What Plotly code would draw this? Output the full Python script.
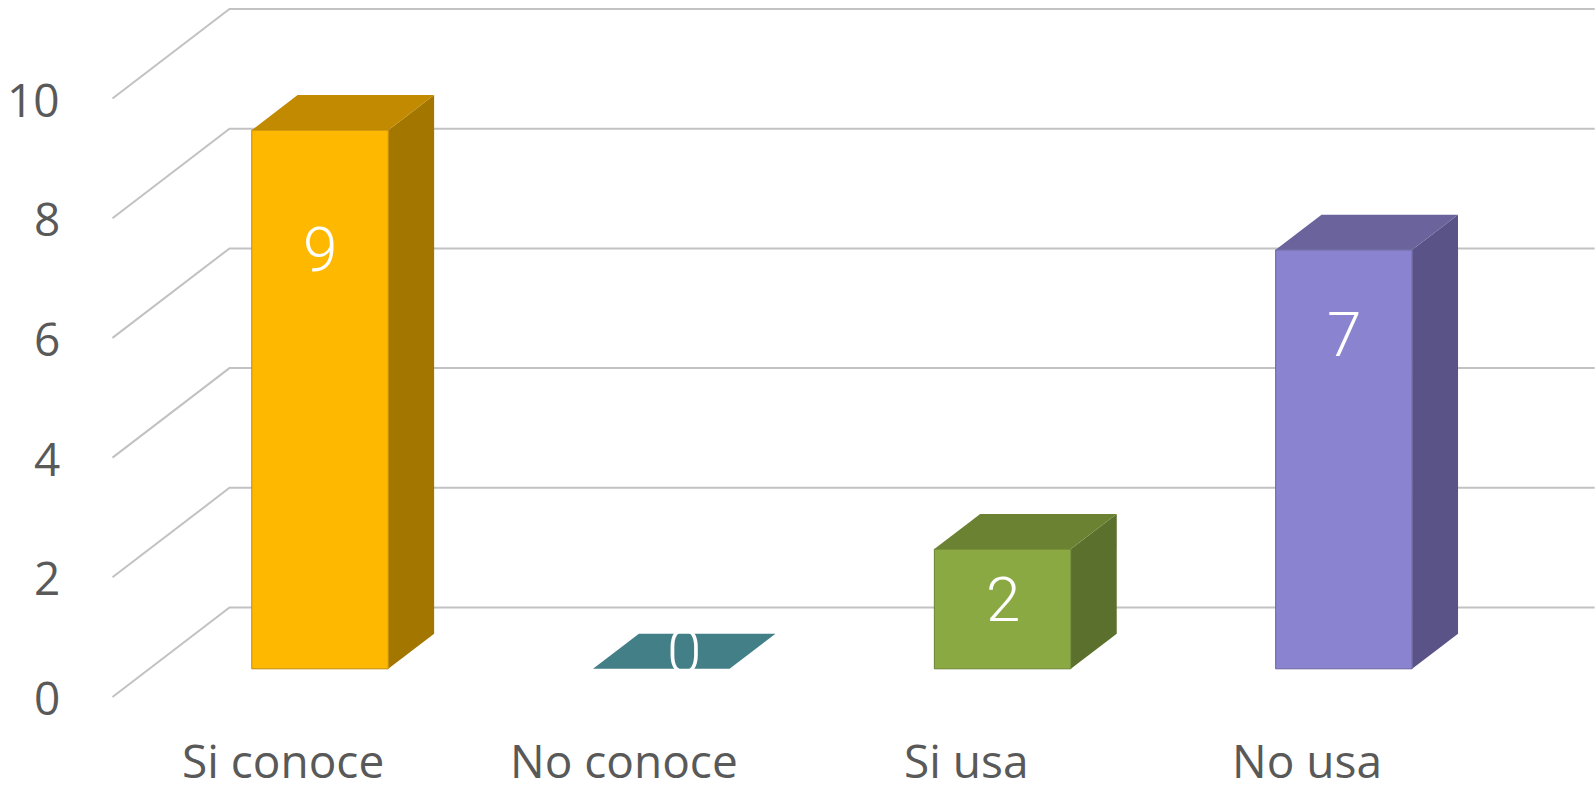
import plotly.graph_objects as go

# ---------------- data ----------------
categories = ["Si conoce", "No conoce", "Si usa", "No usa"]
values = [9, 0, 2, 7]
y_ticks = [0, 2, 4, 6, 8, 10]
y_tick_labels = ["0", "2", "4", "6", "8", "10"]

# ---------------- style ----------------
front_colors = ["#FFB800", "#4A8E97", "#8BA943", "#8A83D0"]
top_colors = ["#C28A00", "#427F87", "#6B8233", "#6A639C"]
side_colors = ["#A37600", "#366B72", "#5B702C", "#5A5387"]
label_frac = [0.778, 0.0, 0.575, 0.797]   # vertical placement of the value label within each bar

W, H = 1595, 785
CAT_PX = 341.3          # pixels per category on the front plane
UNIT_PX = 59.85         # pixels per value unit
X0_PX = 112.5           # pixel of category -0.5 on the front plane
Y0_PX = 697.0           # pixel of value 0 on the front plane
DEPTH_X = 117.0 / CAT_PX   # full depth offset, category units
DEPTH_Y = 89.5 / UNIT_PX   # full depth offset, value units
BAR_W = 0.4
D0, D1 = 0.315, 0.707   # bar front / back depth fractions

x_range = [-0.5 - X0_PX / CAT_PX, -0.5 + (W - X0_PX) / CAT_PX]
y_range = [-(H - Y0_PX) / UNIT_PX, Y0_PX / UNIT_PX]


def proj(x, y, d):
    return x + d * DEPTH_X, y + d * DEPTH_Y


fig = go.Figure()

# gridlines: left wall diagonals + back wall horizontals
gx, gy = [], []
n = len(categories)
for v in y_ticks:
    for (cx, dd) in [(-0.5, 0.0), (-0.5, 1.0), (n - 0.5, 1.0)]:
        px, py = proj(cx, v, dd)
        gx.append(px)
        gy.append(py)
    gx.append(None)
    gy.append(None)
fig.add_trace(go.Scatter(x=gx, y=gy, mode="lines",
                         line=dict(color="#C2C2C2", width=2),
                         hoverinfo="skip", showlegend=False))


def poly(pts, color, lw=0, lc=None):
    xs = [p[0] for p in pts] + [pts[0][0]]
    ys = [p[1] for p in pts] + [pts[0][1]]
    fig.add_trace(go.Scatter(x=xs, y=ys, mode="lines", fill="toself",
                             fillcolor=color,
                             line=dict(color=lc or color, width=lw),
                             hoverinfo="skip", showlegend=False))


for i, v in enumerate(values):
    x0, x1 = i - BAR_W / 2, i + BAR_W / 2
    if v > 0:
        side = [proj(x1, 0, D0), proj(x1, 0, D1), proj(x1, v, D1), proj(x1, v, D0)]
        poly(side, side_colors[i])
        front = [proj(x0, 0, D0), proj(x1, 0, D0), proj(x1, v, D0), proj(x0, v, D0)]
        poly(front, front_colors[i], 1, top_colors[i])
    top = [proj(x0, v, D0), proj(x1, v, D0), proj(x1, v, D1), proj(x0, v, D1)]
    poly(top, top_colors[i])

annotations = []
# value labels
for i, v in enumerate(values):
    if v > 0:
        lx, ly = proj(i, v * label_frac[i], D0)
    else:
        lx, ly = proj(i, 0, (D0 + D1) / 2)
    annotations.append(dict(x=lx, y=ly, text=str(v), showarrow=False,
                            xanchor="center", yanchor="middle",
                            font=dict(family="Roboto", size=62, color="white", weight=300)))

# y tick labels (front plane)
for v, t in zip(y_ticks, y_tick_labels):
    annotations.append(dict(x=-0.5 - 50.5 / CAT_PX, y=v, text=t, showarrow=False,
                            xanchor="right", yanchor="middle",
                            font=dict(family="Open Sans", size=46, color="#595959")))

# category labels (front plane)
for i, c in enumerate(categories):
    annotations.append(dict(x=i, y=-63.0 / UNIT_PX, text=c, showarrow=False,
                            xanchor="center", yanchor="middle",
                            font=dict(family="Open Sans", size=46, color="#595959")))

fig.update_layout(
    width=W, height=H,
    margin=dict(l=0, r=0, t=0, b=0),
    paper_bgcolor="white", plot_bgcolor="white",
    xaxis=dict(range=x_range, visible=False, fixedrange=True),
    yaxis=dict(range=y_range, visible=False, fixedrange=True),
    annotations=annotations,
    showlegend=False,
)

fig.write_html("out.html",
               config={"displayModeBar": False},
               post_script="document.body.style.margin='0';document.body.style.overflow='hidden';")
